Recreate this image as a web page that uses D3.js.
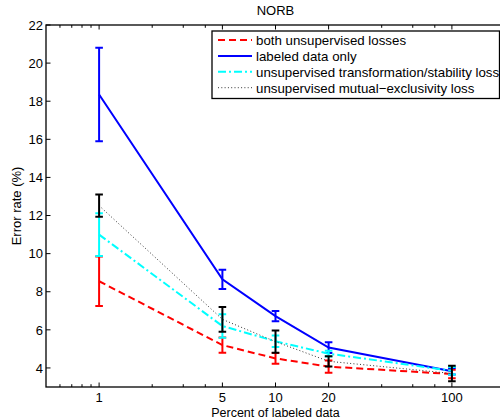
<!DOCTYPE html>
<html>
<head>
<meta charset="utf-8">
<script src="https://cdn.jsdelivr.net/npm/d3@7"></script>
<style>
  body { margin: 0; background: #fff; }
  text { font-family: "Liberation Sans", Arial, sans-serif; fill: #000; }
</style>
</head>
<body>
<div class="norb-chart"></div>
<script>
const percents = [1, 5, 10, 20, 100];
const xTickLabels = [1, 5, 10, 20, 100];
const xMinorTicks = [0.6, 0.7, 0.8, 0.9, 2, 3, 4, 40, 60, 80];
const yTickLabels = [4, 6, 8, 10, 12, 14, 16, 18, 20, 22];

// mean error and error bar half-height, one pair per curve
const bothLosses = [8.55, 5.2, 4.5, 4.07, 3.68];
const bothErr = [1.3, 0.4, 0.28, 0.32, 0.22];
const labeledOnly = [18.35, 8.65, 6.72, 5.07, 3.83];
const labeledErr = [2.45, 0.5, 0.27, 0.28, 0.17];
const transformLoss = [11.0, 6.2, 5.4, 4.75, 3.85];
const transformErr = [1.12, 0.62, 0.3, 0.15, 0.2];
const exclusivityLoss = [12.52, 6.55, 5.38, 4.35, 3.71];
const exclusivityErr = [0.58, 0.65, 0.58, 0.27, 0.41];

const seriesNames = [
    "both unsupervised losses",
    "labeled data only",
    "unsupervised transformation/stability loss",
    "unsupervised mutual\u2212exclusivity loss"
];

const series = [
    { name: seriesNames[0], values: bothLosses, errs: bothErr, color: "#ff0000", dash: "7,4", width: 2 },
    { name: seriesNames[1], values: labeledOnly, errs: labeledErr, color: "#0000ff", dash: null, width: 2 },
    { name: seriesNames[2], values: transformLoss, errs: transformErr, color: "#00ffff", dash: "8,3,2,3", width: 2 },
    { name: seriesNames[3], values: exclusivityLoss, errs: exclusivityErr, color: "#000000", dash: "1,2.3", width: 1 }
];

const width = 500, height = 419;
const m = { left: 46, right: 505, top: 25, bottom: 387 };

const svg = d3.select(".norb-chart").append("svg").attr("width", width).attr("height", height);

const x = d3.scaleLog().domain([0.5, 200]).range([m.left, m.right]);
const y = d3.scaleLinear().domain([3, 22]).range([m.bottom, m.top]);

// axes box
const axes = svg.append("g").attr("class", "axes");
axes.append("rect").attr("x", m.left).attr("y", m.top).attr("width", m.right - m.left).attr("height", m.bottom - m.top)
    .attr("fill", "none").attr("stroke", "#000").attr("stroke-width", 1.3);

// x ticks on bottom and top, pointing inward
axes.selectAll(".xmajor").data(xTickLabels).enter().append("path").attr("class", "xmajor")
    .attr("d", d => `M${x(d)},${m.bottom}v-4.5M${x(d)},${m.top}v4.5`).attr("stroke", "#000").attr("stroke-width", 1);
axes.selectAll(".xminor").data(xMinorTicks).enter().append("path").attr("class", "xminor")
    .attr("d", d => `M${x(d)},${m.bottom}v-2.8M${x(d)},${m.top}v2.8`).attr("stroke", "#000").attr("stroke-width", 1);
axes.selectAll(".xlabel").data(xTickLabels).enter().append("text").attr("class", "xlabel")
    .attr("x", d => x(d)).attr("y", 402).attr("text-anchor", "middle").attr("font-size", 13).text(d => d);

// y ticks
axes.selectAll(".ytick").data(yTickLabels).enter().append("path").attr("class", "ytick")
    .attr("d", d => `M${m.left},${y(d)}h4.5`).attr("stroke", "#000").attr("stroke-width", 1);
axes.selectAll(".ylabel").data(yTickLabels).enter().append("text").attr("class", "ylabel")
    .attr("x", 43).attr("y", d => y(d)).attr("dy", "0.36em").attr("text-anchor", "end").attr("font-size", 13).text(d => d);

// curves with error bars
const line = d3.line().x(d => x(d[0])).y(d => y(d[1]));
const cap = 3.8;

series.forEach(s => {
    const g = svg.append("g").attr("class", "series");
    const pts = percents.map((p, i) => [p, s.values[i]]);
    g.append("path").attr("d", line(pts)).attr("fill", "none")
        .attr("stroke", s.color === "#000000" ? "#333" : s.color).attr("stroke-width", s.width)
        .attr("stroke-dasharray", s.dash);
    g.selectAll(".err").data(percents).enter().append("path").attr("class", "err")
        .attr("d", (p, i) => {
            const cx = x(p), y0 = y(s.values[i] - s.errs[i]), y1 = y(s.values[i] + s.errs[i]);
            return `M${cx},${y0}V${y1}M${cx - cap},${y0}h${2 * cap}M${cx - cap},${y1}h${2 * cap}`;
        })
        .attr("fill", "none").attr("stroke", s.color).attr("stroke-width", 2);
});

// titles
svg.append("text").attr("x", (m.left + m.right) / 2).attr("y", 15).attr("text-anchor", "middle").attr("font-size", 13).text("NORB");
svg.append("text").attr("x", (m.left + m.right) / 2).attr("y", 416.5).attr("text-anchor", "middle").attr("font-size", 12.5).text("Percent of labeled data");
svg.append("text").attr("transform", `translate(21,${(m.top + m.bottom) / 2}) rotate(-90)`).attr("text-anchor", "middle").attr("font-size", 13).text("Error rate (%)");

// legend
const legend = svg.append("g").attr("class", "legend");
legend.append("rect").attr("x", 212).attr("y", 31).attr("width", 287.5).attr("height", 67.5)
    .attr("fill", "#fff").attr("stroke", "#000").attr("stroke-width", 1.3);
series.forEach((s, i) => {
    const by = 45 + i * 15.9;
    legend.append("path").attr("d", `M218,${by - 5}H252`).attr("stroke", s.color === "#000000" ? "#333" : s.color)
        .attr("stroke-width", s.width).attr("stroke-dasharray", s.dash);
    legend.append("text").attr("x", 256).attr("y", by).attr("font-size", 13.3).text(s.name);
});
</script>
</body>
</html>
